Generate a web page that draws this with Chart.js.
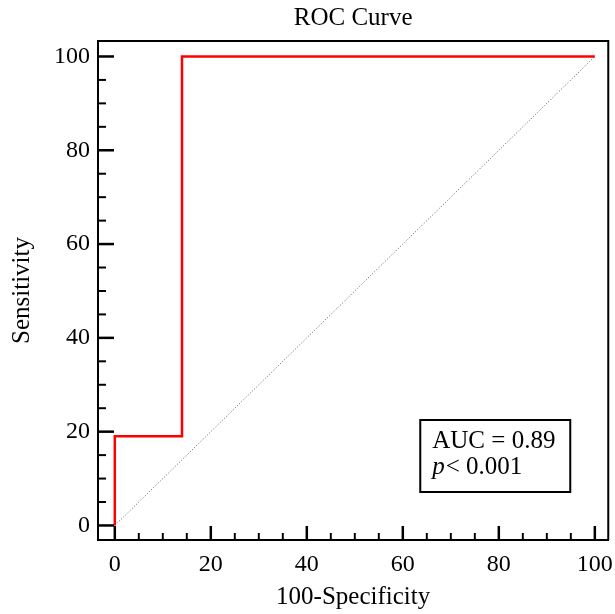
<!DOCTYPE html>
<html>
<head>
<meta charset="utf-8">
<title>ROC Curve</title>
<script src="https://cdn.jsdelivr.net/npm/chart.js@4.4.1/dist/chart.umd.min.js"></script>
<style>
  html, body { margin: 0; padding: 0; background: #fff; }
  canvas { display: block; }
</style>
</head>
<body>
<canvas id="roc" width="615" height="614" style="width:615px;height:614px"></canvas>
<script>
(function () {
    'use strict';

    // ROC steps (100-Specificity, Sensitivity).
    var rocX = [0, 0, 14, 14, 100];
    var rocY = [0, 19, 19, 100, 100];

    // Reference diagonal.
    var refX = [0, 100];
    var refY = [0, 100];

    var xTicks = [0, 20, 40, 60, 80, 100];
    var yTicks = [0, 20, 40, 60, 80, 100];
    var minorStep = 5;

    var aucLabel = 'AUC = 0.89';
    var pLabel = '< 0.001';

    var SERIF = "'Liberation Serif', 'Times New Roman', serif";

    function toPoints(xs, ys) {
        return xs.map(function (x, i) { return { x: x, y: ys[i] }; });
    }

    function fixTicks(values) {
        return function (scale) {
            scale.ticks = values.map(function (v) { return { value: v }; });
        };
    }

    // Inward tick marks, the closed frame and the AUC box.
    var framePlugin = {
        id: 'frame',
        afterDraw: function (chart) {
            var ctx = chart.ctx;
            var area = chart.chartArea;
            var xs = chart.scales.x;
            var ys = chart.scales.y;
            ctx.save();
            ctx.strokeStyle = '#000';
            ctx.lineCap = 'butt';

            // top + right frame
            ctx.lineWidth = 2;
            ctx.beginPath();
            ctx.moveTo(area.left, area.top);
            ctx.lineTo(area.right, area.top);
            ctx.lineTo(area.right, area.bottom);
            ctx.stroke();

            for (var v = 0; v <= 100; v += minorStep) {
                var major = v % 20 === 0;
                ctx.lineWidth = major ? 2.5 : 2;
                var py = ys.getPixelForValue(v);
                ctx.beginPath();
                ctx.moveTo(area.left, py);
                ctx.lineTo(area.left + (major ? 16 : 8), py);
                ctx.stroke();
                var px = xs.getPixelForValue(v);
                ctx.beginPath();
                ctx.moveTo(px, area.bottom);
                ctx.lineTo(px, area.bottom - (major ? 14 : 7));
                ctx.stroke();
            }

            // AUC box
            var bx = area.right - 188, by = area.bottom - 120, bw = 150, bh = 72;
            ctx.fillStyle = '#fff';
            ctx.fillRect(bx, by, bw, bh);
            ctx.lineWidth = 2;
            ctx.strokeRect(bx, by, bw, bh);
            ctx.fillStyle = '#000';
            ctx.textBaseline = 'alphabetic';
            ctx.textAlign = 'left';
            ctx.font = '25px ' + SERIF;
            ctx.fillText(aucLabel, bx + 12, by + 28);
            ctx.font = 'italic 25px ' + SERIF;
            ctx.fillText('p', bx + 12, by + 54);
            var pw = ctx.measureText('p').width;
            ctx.font = '25px ' + SERIF;
            ctx.fillText(pLabel, bx + 12 + pw + 1, by + 54);
            ctx.restore();
        }
    };

    new Chart(document.getElementById('roc'), {
        type: 'scatter',
        data: {
            datasets: [{
                data: toPoints(rocX, rocY),
                showLine: true,
                borderColor: '#ff0000',
                borderWidth: 2.5,
                pointRadius: 0,
                order: 0
            }, {
                data: toPoints(refX, refY),
                showLine: true,
                borderColor: '#555',
                borderWidth: 1,
                borderDash: [1, 2],
                pointRadius: 0,
                order: 1
            }]
        },
        options: {
            responsive: false,
            animation: false,
            layout: { padding: { left: 0, right: 5, top: 0, bottom: 0 } },
            plugins: {
                legend: { display: false },
                tooltip: { enabled: false },
                title: {
                    display: true,
                    text: 'ROC Curve',
                    fullSize: false,
                    color: '#000',
                    font: { family: SERIF, size: 25, weight: 'normal' },
                    padding: { top: 3, bottom: 8 }
                }
            },
            scales: {
                x: {
                    type: 'linear',
                    min: -3.5,
                    max: 102.8,
                    afterBuildTicks: fixTicks(xTicks),
                    afterFit: function (scale) { scale.height = 74; },
                    grid: { display: false },
                    border: { display: true, color: '#000', width: 2 },
                    ticks: { color: '#000', padding: 2, font: { family: SERIF, size: 24 } },
                    title: {
                        display: true,
                        text: '100-Specificity',
                        color: '#000',
                        font: { family: SERIF, size: 25 },
                        padding: { top: 0, bottom: 2 }
                    }
                },
                y: {
                    type: 'linear',
                    min: -3.1,
                    max: 103.3,
                    afterBuildTicks: fixTicks(yTicks),
                    afterFit: function (scale) { scale.width = 98; },
                    grid: { display: false },
                    border: { display: true, color: '#000', width: 2 },
                    ticks: { color: '#000', padding: 0, font: { family: SERIF, size: 24 } },
                    title: {
                        display: true,
                        text: 'Sensitivity',
                        color: '#000',
                        font: { family: SERIF, size: 25 },
                        padding: { top: 7, bottom: 0 }
                    }
                }
            }
        },
        plugins: [framePlugin]
    });
})();
</script>
</body>
</html>
